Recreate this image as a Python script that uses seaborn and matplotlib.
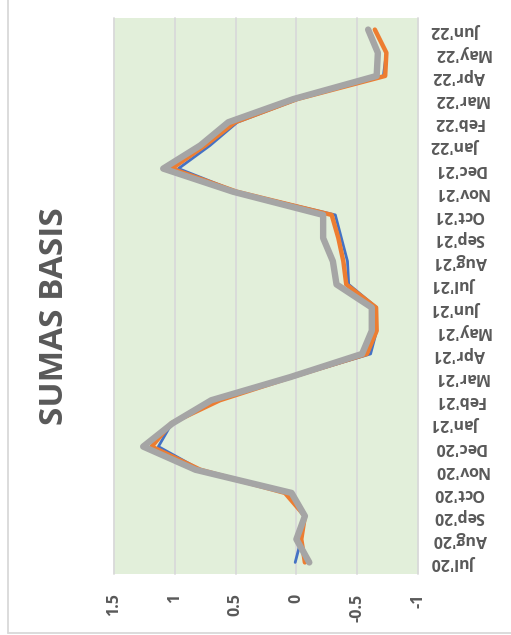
import matplotlib
matplotlib.use("Agg")
import matplotlib.pyplot as plt
from matplotlib.lines import Line2D
import seaborn as sns
import pandas as pd
import numpy as np

months = ["Jul'20", "Aug'20", "Sep'20", "Oct'20", "Nov'20", "Dec'20",
          "Jan'21", "Feb'21", "Mar'21", "Apr'21", "May'21", "Jun'21",
          "Jul'21", "Aug'21", "Sep'21", "Oct'21", "Nov'21", "Dec'21",
          "Jan'22", "Feb'22", "Mar'22", "Apr'22", "May'22", "Jun'22"]

series_blue = [0.01, -0.04, -0.07, 0.08, 0.79, 1.135, 1.025, 0.64, 0.03, -0.61,
               -0.66, -0.66, -0.43, -0.42, -0.37, -0.32, 0.49, 0.97, 0.71, 0.486,
               -0.016, -0.715, -0.74, -0.645]
series_orange = [-0.07, -0.04, -0.07, 0.094, 0.79, 1.19, 1.03, 0.63, 0.04, -0.58,
                 -0.66, -0.655, -0.41, -0.386, -0.345, -0.29, 0.49, 1.025, 0.75, 0.505,
                 -0.005, -0.73, -0.74, -0.645]
series_gray = [-0.106, 0.0, -0.07, 0.04, 0.83, 1.26, 1.02, 0.70, 0.05, -0.54,
               -0.62, -0.62, -0.33, -0.30, -0.22, -0.22, 0.52, 1.095, 0.79, 0.56,
               0.025, -0.66, -0.67, -0.59]

value_ticks = [1.5, 1, 0.5, 0, -0.5, -1]
value_tick_labels = ["1.5", "1", "0.5", "0", "-0.5", "-1"]
title = "SUMAS BASIS"

text_color = "#595959"
grid_color = "#D9D9D9"
plot_bg = "#E2EFDA"
colors = ["#4472C4", "#ED7D31", "#A5A5A5"]
widths = [2.0, 3.2, 4.6]

sns.set_style("white")
plt.rcParams["font.family"] = ["Open Sans", "DejaVu Sans"]

W, H = 511, 635
fig = plt.figure(figsize=(W / 100, H / 100), dpi=100)
ax = fig.add_axes([114 / W, (H - 574) / H, (418 - 114) / W, (574 - 18) / H])
ax.set_facecolor(plot_bg)

idx = np.arange(len(months))
for vals, c, lw in zip([series_blue, series_orange, series_gray], colors, widths):
    df = pd.DataFrame({"value": vals, "pos": idx})
    sns.lineplot(data=df, x="value", y="pos", orient="y", sort=False, ax=ax,
                 color=c, linewidth=lw, solid_capstyle="round",
                 solid_joinstyle="round", zorder=3)

for v in value_ticks:
    ax.axvline(v, color=grid_color, lw=1.3, zorder=1, clip_on=False)

ax.set_xlim(1.5, -1)
ax.set_ylim(-0.5, len(months) - 0.5)
ax.set_xticks(value_ticks)
ax.set_xticklabels(value_tick_labels, rotation=90, fontsize=11.5,
                   fontweight="bold", color=text_color)
ax.set_yticks(idx)
ax.set_yticklabels(months, rotation=180, fontsize=11.5, fontweight="bold",
                   color=text_color)
ax.yaxis.tick_right()
ax.tick_params(axis="x", length=0, pad=14)
ax.tick_params(axis="y", length=0, pad=11)
for lab in ax.get_yticklabels():
    lab.set_ha("left")
    lab.set_va("center")
ax.set_xlabel("")
ax.set_ylabel("")
for s in ax.spines.values():
    s.set_visible(False)

fig.text(55 / W, 1 - 316 / H, title, rotation=90, ha="center", va="center",
         fontsize=24, fontweight="bold", color=text_color)

fig.add_artist(Line2D([7.5 / W, 7.5 / W], [2 / H, 1.0], transform=fig.transFigure,
                      color=grid_color, lw=1.3))
fig.add_artist(Line2D([7.5 / W, 1.0], [2 / H, 2 / H], transform=fig.transFigure,
                      color=grid_color, lw=1.3))

fig.savefig("out.png", dpi=100)
